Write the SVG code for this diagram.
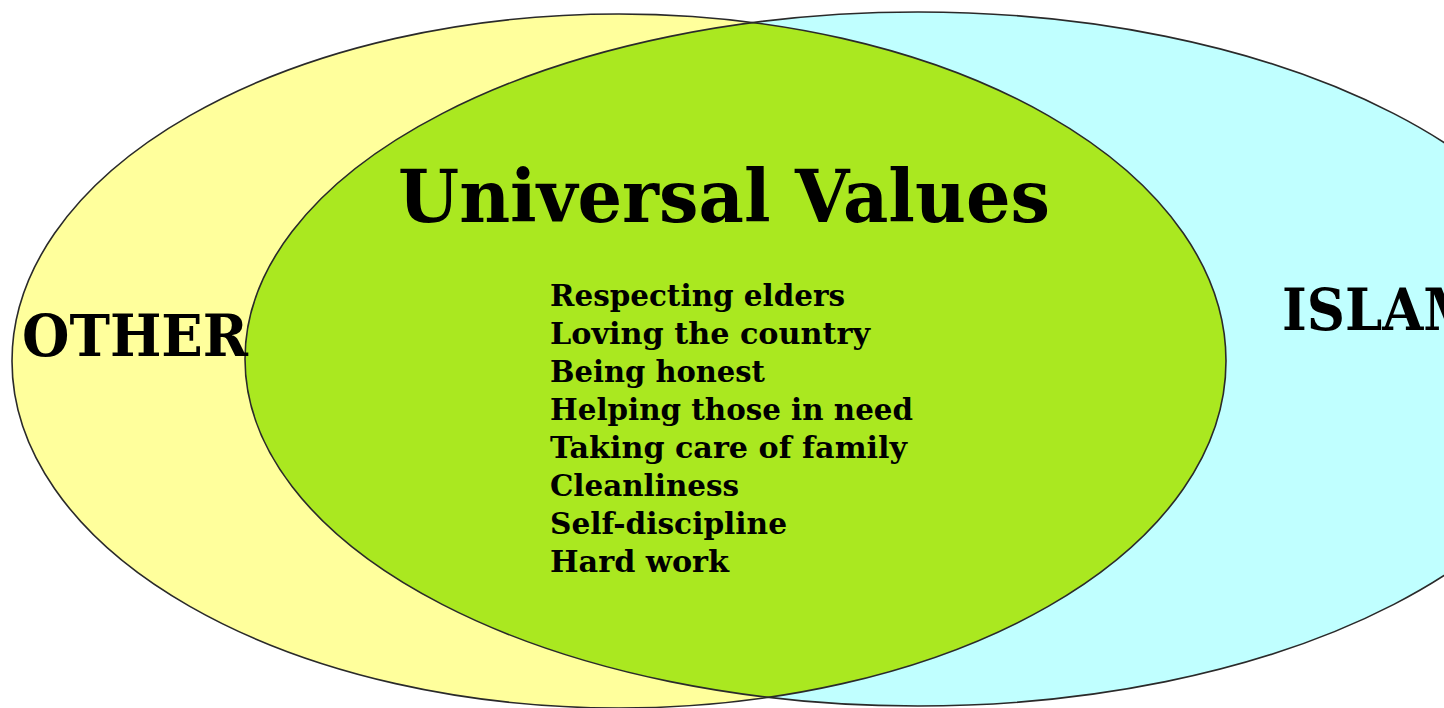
<svg xmlns="http://www.w3.org/2000/svg" width="1444" height="708" viewBox="0 0 1444 708">
  <style>
    .outline { fill: none; stroke: #2a2a2a; stroke-width: 1.6; }
    .other { fill: #ffff9c; }
    .islam { fill: #c0ffff; }
    .shared { fill: #aae820; }
    .label { font-family: "DejaVu Serif", "Liberation Serif", serif; font-weight: bold; fill: #000; }
    .big { font-size: 57px; }
    .title { font-size: 73px; }
    .item { font-size: 29px; }
  </style>
  <defs>
    <ellipse id="shape-other" cx="619" cy="361" rx="607" ry="347"/>
    <ellipse id="shape-islam" cx="918" cy="359" rx="673" ry="347"/>
    <clipPath id="clip-islam">
      <use href="#shape-islam"/>
    </clipPath>
  </defs>
  <rect width="1444" height="708" fill="#ffffff"/>

  <g id="set-other">
    <use href="#shape-other" class="other"/>
  </g>

  <g id="set-islam">
    <use href="#shape-islam" class="islam"/>
  </g>

  <!-- overlap of the two sets -->
  <g id="set-shared">
    <use href="#shape-other" class="shared" clip-path="url(#clip-islam)"/>
  </g>

  <!-- both set outlines stay visible over the fills -->
  <g id="outlines">
    <use href="#shape-other" class="outline"/>
    <use href="#shape-islam" class="outline"/>
  </g>

  <g id="labels">
    <text class="label big" x="22" y="356" textLength="226" lengthAdjust="spacingAndGlyphs">OTHER</text>
    <text class="label big" x="1282" y="330" textLength="200" lengthAdjust="spacingAndGlyphs">ISLAM</text>
  </g>

  <g id="shared-values">
    <text class="label title" x="398" y="222" textLength="652" lengthAdjust="spacingAndGlyphs">Universal Values</text>
    <text class="label item" x="550" y="306" textLength="295" lengthAdjust="spacingAndGlyphs">Respecting elders</text>
    <text class="label item" x="550" y="344" textLength="320" lengthAdjust="spacingAndGlyphs">Loving the country</text>
    <text class="label item" x="550" y="382" textLength="215" lengthAdjust="spacingAndGlyphs">Being honest</text>
    <text class="label item" x="550" y="420" textLength="363" lengthAdjust="spacingAndGlyphs">Helping those in need</text>
    <text class="label item" x="550" y="458" textLength="357" lengthAdjust="spacingAndGlyphs">Taking care of family</text>
    <text class="label item" x="550" y="496" textLength="189" lengthAdjust="spacingAndGlyphs">Cleanliness</text>
    <text class="label item" x="550" y="534" textLength="237" lengthAdjust="spacingAndGlyphs">Self-discipline</text>
    <text class="label item" x="550" y="572" textLength="179" lengthAdjust="spacingAndGlyphs">Hard work</text>
  </g>
</svg>
